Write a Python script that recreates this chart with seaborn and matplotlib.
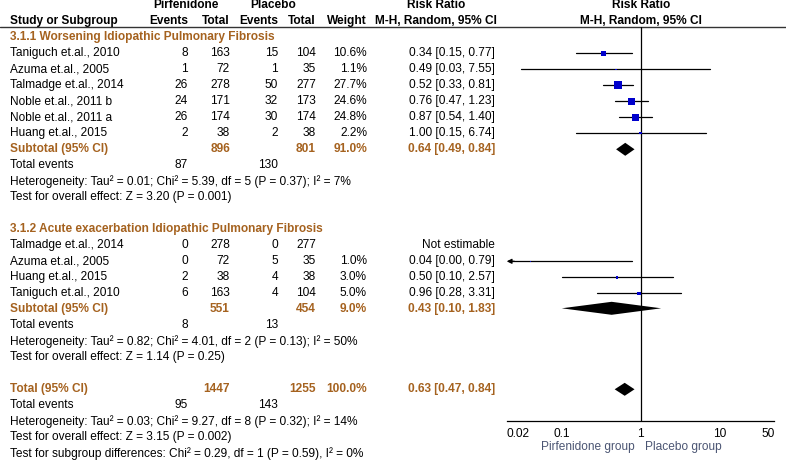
import matplotlib
matplotlib.use("Agg")
import matplotlib.pyplot as plt
import numpy as np
import pandas as pd
import seaborn as sns

# ---- data ----
studies1 = ["Taniguch et.al., 2010", "Azuma et.al., 2005", "Talmadge et.al., 2014",
            "Noble et.al., 2011 b", "Noble et.al., 2011 a", "Huang et.al., 2015"]
pir_events1 = [8, 1, 26, 24, 26, 2]
pir_total1 = [163, 72, 278, 171, 174, 38]
pla_events1 = [15, 1, 50, 32, 30, 2]
pla_total1 = [104, 35, 277, 173, 174, 38]
weight1 = [10.6, 1.1, 27.7, 24.6, 24.8, 2.2]
rr1 = [0.34, 0.49, 0.52, 0.76, 0.87, 1.00]
lo1 = [0.15, 0.03, 0.33, 0.47, 0.54, 0.15]
hi1 = [0.77, 7.55, 0.81, 1.23, 1.40, 6.74]

studies2 = ["Talmadge et.al., 2014", "Azuma et.al., 2005", "Huang et.al., 2015", "Taniguch et.al., 2010"]
pir_events2 = [0, 0, 2, 6]
pir_total2 = [278, 72, 38, 163]
pla_events2 = [0, 5, 4, 4]
pla_total2 = [277, 35, 38, 104]
weight2 = [np.nan, 1.0, 3.0, 5.0]
rr2 = [np.nan, 0.04, 0.50, 0.96]
lo2 = [np.nan, 0.00, 0.10, 0.28]
hi2 = [np.nan, 0.79, 2.57, 3.31]

# subtotal / total: [rr, lo, hi, pir_total, pla_total, weight, pir_events, pla_events]
sub1 = [0.64, 0.49, 0.84, 896, 801, 91.0, 87, 130]
sub2 = [0.43, 0.10, 1.83, 551, 454, 9.0, 8, 13]
total = [0.63, 0.47, 0.84, 1447, 1255, 100.0, 95, 143]

het1 = "Heterogeneity: Tau\u00b2 = 0.01; Chi\u00b2 = 5.39, df = 5 (P = 0.37); I\u00b2 = 7%"
eff1 = "Test for overall effect: Z = 3.20 (P = 0.001)"
het2 = "Heterogeneity: Tau\u00b2 = 0.82; Chi\u00b2 = 4.01, df = 2 (P = 0.13); I\u00b2 = 50%"
eff2 = "Test for overall effect: Z = 1.14 (P = 0.25)"
het_t = "Heterogeneity: Tau\u00b2 = 0.03; Chi\u00b2 = 9.27, df = 8 (P = 0.32); I\u00b2 = 14%"
eff_t = "Test for overall effect: Z = 3.15 (P = 0.002)"
sub_t = "Test for subgroup differences: Chi\u00b2 = 0.29, df = 1 (P = 0.59), I\u00b2 = 0%"

xticks = [0.02, 0.1, 1, 10, 50]
xtick_labels = ["0.02", "0.1", "1", "10", "50"]

# ---- style ----
sns.set_theme(style="white")
plt.rcParams['font.family'] = ['Liberation Sans', 'DejaVu Sans']
FS = 8.6
ORANGE = '#A5621F'
BLUE = '#0000CC'

W, H = 786, 462
fig = plt.figure(figsize=(W / 100, H / 100), dpi=100)
ax = fig.add_axes([0, 0, 1, 1])
ax.set_xlim(0, W)
ax.set_ylim(H, 0)
ax.axis('off')

def row(i):
    return 5.3 + 16.0 * i

# column right edges (px)
c_name, c_pe, c_pt, c_le, c_lt, c_w, c_rr = 10, 188, 230, 278, 316, 367, 495
x_lo_px, x_hi_px, axis_y, top_y = 506.7, 774.3, 420.7, 27

def txt(x, y, s, ha='right', bold=False, color='black'):
    ax.text(x, y, s, ha=ha, va='center', fontsize=FS,
            fontweight='bold' if bold else 'normal', color=color)

# header
txt(186, row(0), "Pirfenidone", ha='center', bold=True)
txt(273.5, row(0), "Placebo", ha='center', bold=True)
txt(436, row(0), "Risk Ratio", ha='center', bold=True)
txt(641, row(0), "Risk Ratio", ha='center', bold=True)
txt(c_name, row(1), "Study or Subgroup", ha='left', bold=True)
for x, s in [(c_pe, "Events"), (c_pt, "Total"), (c_le, "Events"), (c_lt, "Total"), (c_w, "Weight")]:
    txt(x, row(1), s, bold=True)
txt(436, row(1), "M-H, Random, 95% CI", ha='center', bold=True)
txt(641, row(1), "M-H, Random, 95% CI", ha='center', bold=True)
ax.plot([0, W], [top_y, top_y], color='#333333', lw=1)

def study_rows(start, names, pe, pt, le, lt, w, rr, lo, hi):
    for k, name in enumerate(names):
        y = row(start + k)
        txt(c_name, y, name, ha='left')
        txt(c_pe, y, str(pe[k]))
        txt(c_pt, y, str(pt[k]))
        txt(c_le, y, str(le[k]))
        txt(c_lt, y, str(lt[k]))
        if np.isnan(rr[k]):
            txt(c_rr, y, "Not estimable")
        else:
            txt(c_w, y, f"{w[k]:.1f}%")
            txt(c_rr, y, f"{rr[k]:.2f} [{lo[k]:.2f}, {hi[k]:.2f}]")

def summary_rows(start, label, s, het, eff):
    y = row(start)
    txt(c_name, y, label, ha='left', bold=True, color=ORANGE)
    txt(c_pt, y, str(s[3]), bold=True, color=ORANGE)
    txt(c_lt, y, str(s[4]), bold=True, color=ORANGE)
    txt(c_w, y, f"{s[5]:.1f}%", bold=True, color=ORANGE)
    txt(c_rr, y, f"{s[0]:.2f} [{s[1]:.2f}, {s[2]:.2f}]", bold=True, color=ORANGE)
    txt(c_name, row(start + 1), "Total events", ha='left')
    txt(c_pe, row(start + 1), str(s[6]))
    txt(c_le, row(start + 1), str(s[7]))
    txt(c_name, row(start + 2), het, ha='left')
    txt(c_name, row(start + 3), eff, ha='left')

txt(c_name, row(2), "3.1.1 Worsening Idiopathic Pulmonary Fibrosis", ha='left', bold=True, color=ORANGE)
study_rows(3, studies1, pir_events1, pir_total1, pla_events1, pla_total1, weight1, rr1, lo1, hi1)
summary_rows(9, "Subtotal (95% CI)", sub1, het1, eff1)

txt(c_name, row(14), "3.1.2 Acute exacerbation Idiopathic Pulmonary Fibrosis", ha='left', bold=True, color=ORANGE)
study_rows(15, studies2, pir_events2, pir_total2, pla_events2, pla_total2, weight2, rr2, lo2, hi2)
summary_rows(19, "Subtotal (95% CI)", sub2, het2, eff2)

summary_rows(24, "Total (95% CI)", total, het_t, eff_t)
txt(c_name, row(28), sub_t, ha='left')

# ---- forest panel ----
fax = fig.add_axes([x_lo_px / W, 1 - axis_y / H, (x_hi_px - x_lo_px) / W, (axis_y - top_y) / H])
fax.patch.set_alpha(0)
fax.set_xscale('log')
xmin, xmax = xticks[0], xticks[-1]
fax.set_xlim(xmin, xmax)
fax.set_ylim(axis_y, top_y)
for sp in ['top', 'left', 'right']:
    fax.spines[sp].set_visible(False)
fax.spines['bottom'].set_color('black')
fax.spines['bottom'].set_linewidth(0.9)
fax.set_yticks([])
fax.set_xticks(xticks)
fax.set_xticklabels(xtick_labels)
fax.minorticks_off()
fax.tick_params(axis='x', direction='inout', length=8, width=0.9, pad=1, labelsize=FS, colors='black')
tl = fax.get_xticklabels()
tl[0].set_horizontalalignment('left')
tl[-1].set_horizontalalignment('right')
fax.axvline(1, color='black', lw=0.9)

rows_all = [row(3 + k) for k in range(len(studies1))] + [row(15 + k) for k in range(len(studies2))]
df = pd.DataFrame({
    'row': rows_all,
    'rr': rr1 + rr2,
    'lo': lo1 + lo2,
    'hi': hi1 + hi2,
    'weight': weight1 + weight2,
}).dropna()

for _, r in df.iterrows():
    if r['lo'] < xmin:
        fax.plot([xmin * 1.08, r['hi']], [r['row'], r['row']], color='black', lw=0.9)
        fax.annotate('', xy=(xmin, r['row']), xytext=(xmin * 1.25, r['row']),
                     arrowprops=dict(arrowstyle='-|>', color='black', lw=0.9,
                                     mutation_scale=7, shrinkA=0, shrinkB=0))
    else:
        fax.plot([r['lo'], min(r['hi'], xmax)], [r['row'], r['row']], color='black', lw=0.9)

sns.scatterplot(data=df, x='rr', y='row', size='weight', sizes=(1.1 * 1.0, 1.1 * 27.7),
                size_norm=(1.0, 27.7), marker='s', color=BLUE, linewidth=0,
                legend=False, ax=fax, zorder=3)
fax.set_xlabel('')
fax.set_ylabel('')

def diamond(s, y, h=6.5):
    fax.fill([s[1], s[0], s[2], s[0]], [y, y - h, y, y + h], color='black', lw=0)

diamond(sub1, row(9))
diamond(sub2, row(19) - 1)
diamond(total, row(24))

ax.text(635, 447, "Pirfenidone group", ha='right', va='center', fontsize=FS, color='#4B5573')
ax.text(645, 447, "Placebo group", ha='left', va='center', fontsize=FS, color='#4B5573')

fig.savefig('out.png', dpi=100)
